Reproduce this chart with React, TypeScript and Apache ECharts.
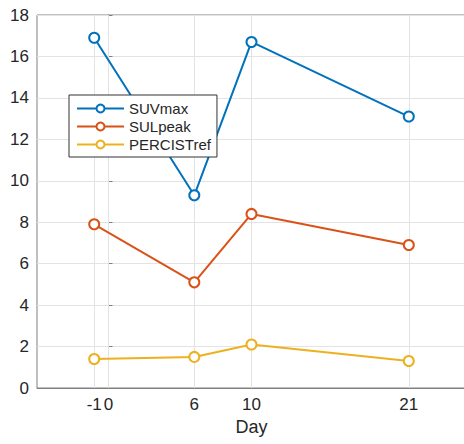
import React, { useEffect, useRef } from "react";
import * as echarts from "echarts";

const days = [-1, 6, 10, 21];
const tickValues = [-1, 0, 6, 10, 21];
const suvMax = [16.9, 9.3, 16.7, 13.1];
const sulPeak = [7.9, 5.1, 8.4, 6.9];
const percistRef = [1.4, 1.5, 2.1, 1.3];
const seriesNames = ["SUVmax", "SULpeak", "PERCISTref"];
const colors = ["#0072BD", "#D95319", "#EDB120"];

const FONT = "'Liberation Sans', Arial, Helvetica, sans-serif";

export default function App() {
  const ref = useRef<HTMLDivElement>(null);
  useEffect(() => {
    const chart = echarts.init(ref.current!, undefined, { renderer: "svg" });
    const values = [suvMax, sulPeak, percistRef];
    const series: any[] = values.map((vals, i) => ({
      name: seriesNames[i],
      type: "line",
      data: days.map((d, j) => [d, vals[j]]),
      symbol: "emptyCircle",
      symbolSize: 10,
      color: colors[i],
      lineStyle: { width: 2, color: colors[i] },
      itemStyle: { color: colors[i], borderWidth: 2 },
      z: 3 + i,
    }));
    series[0].markLine = {
      silent: true,
      symbol: "none",
      label: { show: false },
      lineStyle: { color: "#e3e3e3", width: 1, type: "solid" },
      data: tickValues.map((v) => ({ xAxis: v })),
      z: 1,
    };
    chart.setOption({
      animation: false,
      textStyle: { fontFamily: FONT },
      grid: {
        left: 37,
        top: 15,
        right: -2,
        bottom: 56,
        outerBoundsMode: "none",
        containLabel: false,
        show: true,
        borderColor: "#808080",
        borderWidth: 1,
        backgroundColor: "#ffffff",
      },
      legend: {
        orient: "vertical",
        left: 69,
        top: 95,
        itemWidth: 47,
        itemHeight: 10,
        itemGap: 3,
        padding: [6, 6, 5, 7],
        borderColor: "#333333",
        borderWidth: 1,
        backgroundColor: "#ffffff",
        textStyle: { fontSize: 15, color: "#262626", fontFamily: FONT },
        data: seriesNames,
      },
      xAxis: {
        type: "value",
        min: -5,
        max: 25,
        name: "Day",
        nameLocation: "middle",
        nameGap: 30,
        nameTextStyle: { fontSize: 18, color: "#262626", fontFamily: FONT },
        axisLine: { show: true, lineStyle: { color: "#808080", width: 1 } },
        axisTick: {
          show: true,
          inside: true,
          length: 4,
          customValues: tickValues,
          lineStyle: { color: "#808080" },
        },
        axisLabel: {
          customValues: tickValues,
          fontSize: 17,
          color: "#262626",
          margin: 8,
          fontFamily: FONT,
        },
        splitLine: { show: false },
      },
      yAxis: {
        type: "value",
        min: 0,
        max: 18,
        interval: 2,
        axisLine: { show: true, lineStyle: { color: "#808080", width: 1 } },
        axisTick: { show: true, inside: true, length: 4, lineStyle: { color: "#808080" } },
        axisLabel: { fontSize: 17, color: "#262626", margin: 8, fontFamily: FONT },
        splitLine: { show: true, lineStyle: { color: "#e3e3e3", width: 1 } },
      },
      series,
    });
    return () => chart.dispose();
  }, []);
  return (
    <div
      ref={ref}
      style={{ position: "fixed", left: 0, top: 0, width: 464, height: 444, background: "#fff" }}
    />
  );
}
